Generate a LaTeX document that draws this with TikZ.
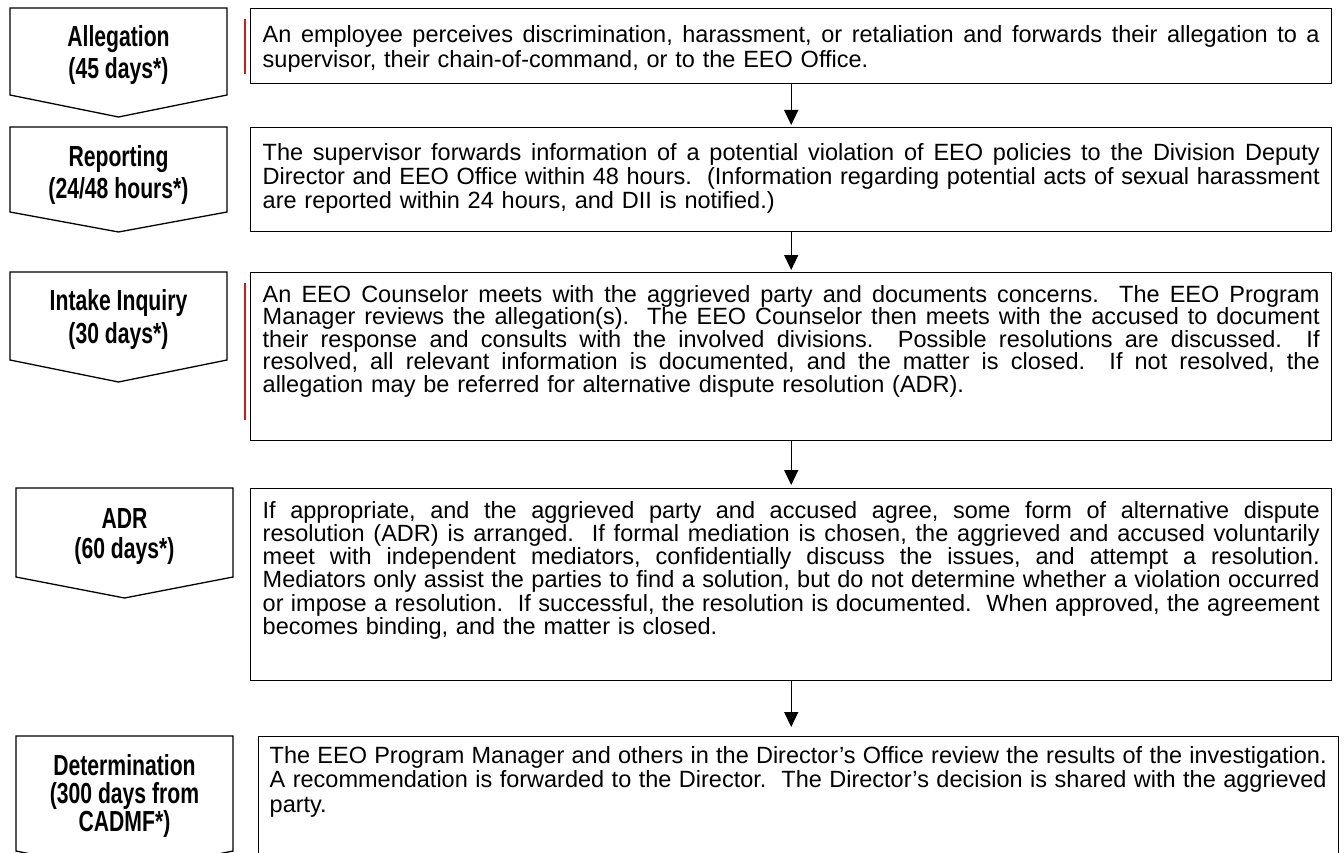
\documentclass[tikz,border=0pt]{standalone}
\usepackage{fontspec}
\setmainfont{Liberation Sans}
\newfontfamily\labfont{Liberation Sans}[FakeStretch=0.73]
\usetikzlibrary{arrows.meta}
\newcommand\tstrut{\rule{0pt}{20pt}}
\newcommand\lstrut{\rule{0pt}{24pt}}
\newcommand\jl[1]{\leavevmode\hbox to 1057pt{\spaceskip=0.2778em plus 1fil minus 0.1em\relax #1}}
\newcommand\tightlines{\lineskiplimit=-50pt\relax}
\definecolor{revred}{RGB}{200,30,30}
\begin{document}
\begin{tikzpicture}[x=1pt,y=-1pt,
  box/.style={draw, line width=1.4pt, rectangle, inner sep=0pt, anchor=north west},
  lab/.style={inner sep=0pt, anchor=north, align=center,
    font={\labfont\fontsize{29}{#1}\selectfont\bfseries\tightlines}},
  body/.style={inner sep=0pt, anchor=north west, text width=1060pt, align=left,
    font={\fontsize{23.5}{#1}\selectfont\tightlines\parindent=0pt\relax\frenchspacing}},
  flow/.style={-{Triangle[length=15pt,width=14pt]}, line width=1.4pt},
  chev/.style={draw, line width=1.3pt, line join=miter},
  revbar/.style={draw=revred, line width=1.1pt}
]
\useasboundingbox (0,0) rectangle (1344,853);
\clip (0,0) rectangle (1344,853);

% left chevrons
\draw[chev] (10,8) -- (227,8) -- (227,95) -- (118.5,117) -- (10,95) -- cycle;
\draw[chev] (10,127) -- (227,127) -- (227,212) -- (118.5,232) -- (10,212) -- cycle;
\draw[chev] (10,272) -- (227,272) -- (227,360) -- (118.5,382) -- (10,360) -- cycle;
\draw[chev] (16,488) -- (233,488) -- (233,577) -- (124.5,598) -- (16,577) -- cycle;
\draw[chev] (16,736) -- (233,736) -- (233,851) -- (124.5,873) -- (16,851) -- cycle;

\node[lab=31.5] (l1) at (118.5,22.7) {\lstrut Allegation\\(45 days*)};
\node[lab=32] (l2) at (118.5,142.5) {\lstrut Reporting\\(24/48 hours*)};
\node[lab=33] (l3) at (118.5,286.5) {\lstrut Intake Inquiry\\(30 days*)};
\node[lab=30] (l4) at (124.5,504.5) {\lstrut ADR\\(60 days*)};
\node[lab=28] (l5) at (124.5,751.5) {\lstrut Determination\\(300 days from\\CADMF*)};

% revision bars
\draw[revbar] (245,19) -- (245,74);
\draw[revbar] (245,283) -- (245,420);

% right boxes
\node[box, minimum width=1081pt, minimum height=75pt] (b1) at (250,8) {};
\node[box, minimum width=1081pt, minimum height=104pt] (b2) at (250,127) {};
\node[box, minimum width=1081pt, minimum height=168pt] (b3) at (250,272) {};
\node[box, minimum width=1081pt, minimum height=192pt] (b4) at (250,488) {};
\node[box, minimum width=1080pt, minimum height=140pt] (b5) at (258,736) {};

\node[body=25] (t1) at (262.5,22) {%
\jl{\tstrut An employee perceives discrimination, harassment, or retaliation and forwards their allegation to a}\\
supervisor, their chain-of-command, or to the EEO Office.};

\node[body=23.7] (t2) at (262.5,140.7) {%
\jl{\tstrut The supervisor forwards information of a potential violation of EEO policies to the Division Deputy}\\
\jl{Director and EEO Office within 48 hours.\ \ (Information regarding potential acts of sexual harassment}\\
are reported within 24 hours, and DII is notified.)};

\node[body=22.5] (t3) at (262.5,282) {%
\jl{\tstrut An EEO Counselor meets with the aggrieved party and documents concerns.\ \ The EEO Program}\\
\jl{Manager reviews the allegation(s).\ \ The EEO Counselor then meets with the accused to document}\\
\jl{their response and consults with the involved divisions.\ \ Possible resolutions are discussed.\ \ If}\\
\jl{resolved, all relevant information is documented, and the matter is closed.\ \ If not resolved, the}\\
allegation may be referred for alternative dispute resolution (ADR).};

\node[body=23.2] (t4) at (262.5,498) {%
\jl{\tstrut If appropriate, and the aggrieved party and accused agree, some form of alternative dispute}\\
\jl{resolution (ADR) is arranged.\ \ If formal mediation is chosen, the aggrieved and accused voluntarily}\\
\jl{meet with independent mediators, confidentially discuss the issues, and attempt a resolution.}\\
\jl{Mediators only assist the parties to find a solution, but do not determine whether a violation occurred}\\
\jl{or impose a resolution.\ \ If successful, the resolution is documented.\ \ When approved, the agreement}\\
becomes binding, and the matter is closed.};

\node[body=24.5] (t5) at (269.5,743) {%
\jl{\tstrut The EEO Program Manager and others in the Director’s Office review the results of the investigation.}\\
\jl{A recommendation is forwarded to the Director.\ \ The Director’s decision is shared with the aggrieved}\\
party.};

% connectors
\draw[flow, shorten >=2pt] (b1.south) -- (b2.north);
\draw[flow, shorten >=2pt] (b2.south) -- (b3.north);
\draw[flow, shorten >=3pt] (b3.south) -- (b4.north);
\draw[flow, shorten >=9pt] (b4.south) -- (b4.south |- b5.north);
\end{tikzpicture}
\end{document}
